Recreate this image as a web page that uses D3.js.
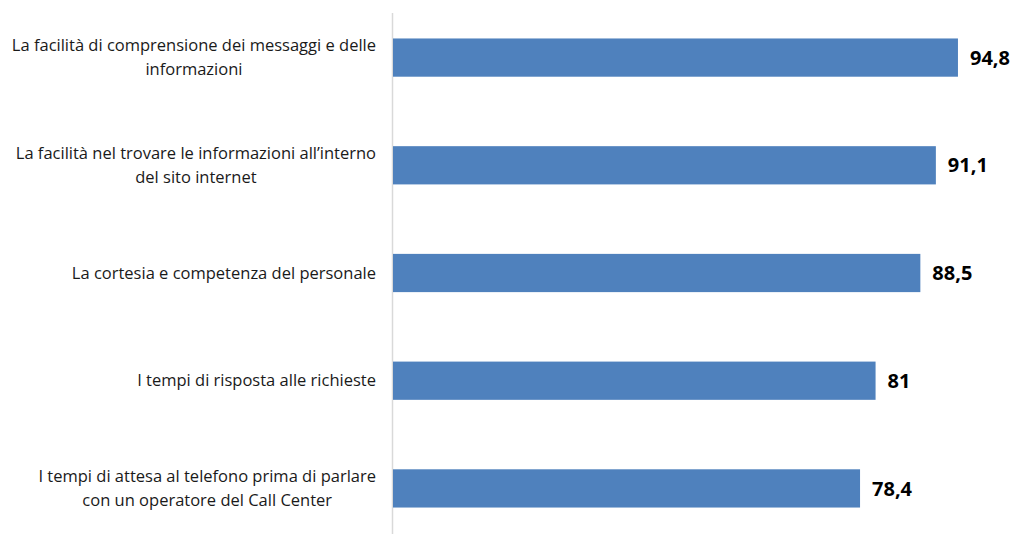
<!DOCTYPE html>
<html>
<head>
<meta charset="utf-8">
<script src="https://cdn.jsdelivr.net/npm/d3@7"></script>
<style>
  body { margin: 0; background: #fff; }
  svg { display: block; font-family: "Open Sans", sans-serif; }
</style>
</head>
<body>
<svg width="1013" height="534"></svg>
<script>
// data
const categories = [
  ["La facilità di comprensione dei messaggi e delle", "informazioni"],
  ["La facilità nel trovare le informazioni all’interno", "del sito internet"],
  ["La cortesia e competenza del personale"],
  ["I tempi di risposta alle richieste"],
  ["I tempi di attesa al telefono prima di parlare", "con un operatore del Call Center"]
];
const values = [94.8, 91.1, 88.5, 81, 78.4];
const valueLabels = ["94,8", "91,1", "88,5", "81", "78,4"];

const svg = d3.select("svg");
const x0 = 392;

const x = d3.scaleLinear().domain([0, 100]).range([x0, x0 + 597]);
const y = d3.scaleBand().domain(d3.range(values.length)).range([4, 542]).paddingInner(0.645).paddingOuter(0.32);

// axis line
svg.append("line")
  .attr("x1", x0 + 0.5).attr("x2", x0 + 0.5)
  .attr("y1", 13).attr("y2", 534)
  .attr("stroke", "#d9d9d9").attr("stroke-width", 1.5);

svg.selectAll(".bar")
  .data(values)
  .enter().append("rect")
  .attr("class", "bar")
  .attr("x", x(0) + 1)
  .attr("y", (d, i) => y(i))
  .attr("width", d => x(d) - x(0) - 1)
  .attr("height", y.bandwidth())
  .attr("fill", "#4f81bd");

svg.selectAll(".val")
  .data(values)
  .enter().append("text")
  .attr("class", "val")
  .attr("x", d => x(d) + 12)
  .attr("y", (d, i) => y(i) + y.bandwidth() / 2)
  .attr("dy", "0.36em")
  .attr("font-size", 20)
  .attr("font-weight", "bold")
  .attr("fill", "#000")
  .text((d, i) => valueLabels[i]);

// category labels: block right-aligned, lines centred inside
const lineH = 24;
const rightEdge = 376;
categories.forEach((lines, i) => {
  const g = svg.append("g");
  const cy = y(i) + y.bandwidth() / 2;
  const texts = lines.map((t, j) => g.append("text")
    .attr("font-size", 16.5)
    .attr("fill", "#1a1a1a")
    .attr("text-anchor", "middle")
    .attr("y", cy + (j - (lines.length - 1) / 2) * lineH)
    .attr("dy", "0.35em")
    .text(t));
  const w = d3.max(texts, t => t.node().getComputedTextLength());
  texts.forEach(t => t.attr("x", rightEdge - w / 2));
});
</script>
</body>
</html>
